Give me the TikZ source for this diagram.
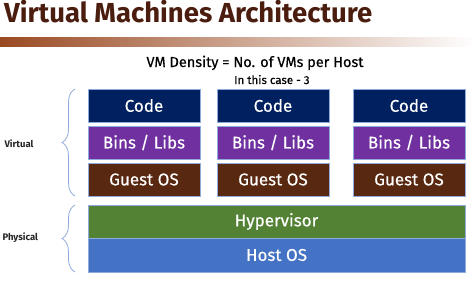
\documentclass[tikz,border=0pt]{standalone}
\usepackage{fontspec}
\setmainfont{Fira Sans}
\newfontfamily\semibold{Fira Sans}[FakeBold=0.4]
\usetikzlibrary{decorations.pathreplacing}
\definecolor{titlebrown}{HTML}{4A1D0E}
\definecolor{barbrown}{HTML}{9A4A22}
\definecolor{codeblue}{HTML}{002060}
\definecolor{libpurple}{HTML}{7030A0}
\definecolor{guestbrown}{HTML}{582810}
\definecolor{hypgreen}{HTML}{548235}
\definecolor{hostblue}{HTML}{4472C4}
\definecolor{edgeblue}{HTML}{8FAADC}
\tikzset{
  layer/.style={draw=edgeblue, line width=0.7pt, text=white, minimum height=33pt,
    inner sep=0pt, font=\semibold\fontsize{17}{18}\selectfont},
  vmbox/.style={layer, minimum width=112pt},
  hostbox/.style={layer, minimum width=377pt},
  bracket/.style={draw=edgeblue, line width=0.8pt,
    decorate, decoration={brace, amplitude=13pt, aspect=0.5}},
  sidelabel/.style={font=\fontsize{9.5}{10}\selectfont\bfseries, text=black!85, anchor=west}
}
\begin{document}
\begin{tikzpicture}[x=1pt, y=-1pt]
  \useasboundingbox (0,0) rectangle (475,289);
  \fill[white] (0,0) rectangle (475,289);

  % heading and shaded rule
  \node[anchor=base west, inner sep=0pt, text=titlebrown,
        font=\fontsize{27.5}{28}\selectfont\bfseries] (title) at (4,23) {Virtual Machines Architecture};
  \shade[left color=barbrown, right color=white] (0,37) rectangle (475,46);

  % density caption
  \node[anchor=base, inner sep=0pt, font=\semibold\fontsize{14.5}{15}\selectfont] (density) at (255,67) {VM Density = No. of VMs per Host};
  \node[anchor=base west, inner sep=0pt, font=\semibold\fontsize{11.5}{12}\selectfont] (count) at (234,84) {In this case - 3};

  % three virtual machine stacks
  \foreach \i/\cx in {1/144, 2/273, 3/409} {
    \node[vmbox, fill=codeblue]   (code\i)  at (\cx,105.5) {Code};
    \node[vmbox, fill=libpurple]  (libs\i)  at (\cx,142.5) {Bins / Libs};
    \node[vmbox, fill=guestbrown] (guest\i) at (\cx,179.5) {Guest OS};
  }

  % shared physical layers
  \node[hostbox, minimum height=33pt, fill=hypgreen] (hyper) at (276.5,221.5) {Hypervisor};
  \node[hostbox, minimum height=34pt, fill=hostblue] (host)  at (276.5,255) {Host OS};

  % grouping braces
  \coordinate (vtop) at (75,89);
  \coordinate (vbot) at (75,196);
  \coordinate (ptop) at (75,205);
  \coordinate (pbot) at (75,272);
  \draw[bracket] (vbot) -- (vtop);
  \draw[bracket] (pbot) -- (ptop);
  \node[sidelabel] (virtual)  at (1,144) {Virtual};
  \node[sidelabel] (physical) at (-1,238) {Physical};
\end{tikzpicture}
\end{document}
